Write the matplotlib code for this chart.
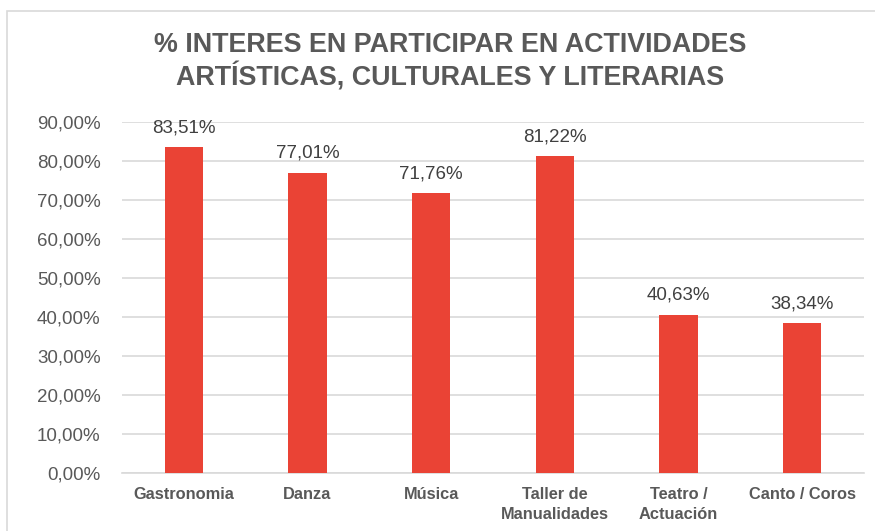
import matplotlib
matplotlib.use("Agg")
import matplotlib.pyplot as plt
from matplotlib.patches import Rectangle
from matplotlib.ticker import FuncFormatter

categories = ["Gastronomia", "Danza", "Música", "Taller de\nManualidades", "Teatro /\nActuación", "Canto / Coros"]
values = [83.51, 77.01, 71.76, 81.22, 40.63, 38.34]
title = "% INTERES EN PARTICIPAR EN ACTIVIDADES\nARTÍSTICAS, CULTURALES Y LITERARIAS"

W, H = 875, 531
fig = plt.figure(figsize=(W / 100, H / 100), dpi=100)
plt.rcParams['font.family'] = ['Liberation Sans', 'DejaVu Sans']

# chart frame
fig.patches.append(Rectangle((7 / W, -0.1), 1.2, 1 - 11 / H + 0.1, transform=fig.transFigure,
                             fill=False, edgecolor="#d9d9d9", linewidth=1.2))

left, right = 122 / W, 864 / W
bottom, top = 1 - 473 / H, 1 - 122 / H
ax = fig.add_axes([left, bottom, right - left, (top - bottom)])
x = list(range(len(categories)))
ax.bar(x, values, width=0.31, color="#EA4335", zorder=3)
ax.set_xlim(-0.5, len(categories) - 0.5)
ax.set_ylim(0, 90)
ax.set_yticks(range(0, 91, 10))
ax.yaxis.set_major_formatter(FuncFormatter(lambda v, p: f"{v:.2f}%".replace(".", ",")))
ax.grid(axis="y", color="#d9d9d9", linewidth=1.2, zorder=0)
for s in ["top", "right", "left"]:
    ax.spines[s].set_visible(False)
ax.spines["bottom"].set_color("#d9d9d9")
ax.spines["bottom"].set_linewidth(1.2)
ax.tick_params(axis="both", length=0)
ax.tick_params(axis="y", labelsize=13.5, labelcolor="#595959", pad=15.5)
ax.set_xticks(x)
ax.set_xticklabels(categories, fontsize=11.8, fontweight="bold", color="#595959", linespacing=1.45)
ax.tick_params(axis="x", pad=10)
for xi, v in zip(x, values):
    ax.annotate(f"{v:.2f}%".replace(".", ","), (xi, v), xytext=(0, 8), textcoords="offset points",
                ha="center", va="bottom", fontsize=13.5, color="#404040")

fig.text(450 / W, 1 - 62 / H, title, ha="center", va="center", fontsize=19.4,
         fontweight="bold", color="#595959", linespacing=1.2)

fig.savefig("out.png", dpi=100)
